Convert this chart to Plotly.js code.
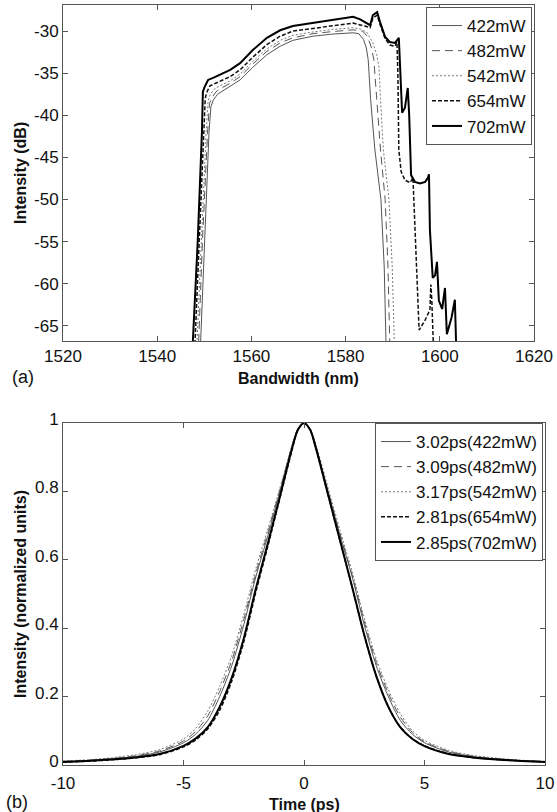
<!DOCTYPE html>
<html>
<head>
<meta charset="utf-8">
<script src="https://cdn.plot.ly/plotly-3.0.1.min.js"></script>
<style>html,body{margin:0;padding:0;background:#fff;}#chart{width:557px;height:812px;}</style>
</head>
<body>
<div id="chart"></div>
<script>
// ---------- Panel (a): spectra ----------
const wl422 = [1549.0,1550.0,1551.0,1551.4,1551.9,1552.8,1554.0,1555.5,1557.6,1560.3,1563.3,1566.1,1568.8,1573.1,1577.3,1581.6,1582.8,1583.8,1584.4,1584.8,1585.3,1586.2,1587.5,1588.2,1588.7];
const db422 = [-70,-55,-42,-39,-38.2,-37.5,-37.1,-36.6,-35.8,-34.3,-32.8,-31.8,-31.1,-30.6,-30.35,-30.2,-30.3,-31.0,-32.0,-33.4,-38,-44,-50,-58,-70];

const wl482 = [1548.6,1549.6,1550.7,1551.1,1551.6,1552.5,1553.5,1555.5,1557.6,1560.3,1563.3,1566.1,1568.8,1573.1,1577.3,1581.6,1583.6,1584.6,1585.4,1586.0,1586.6,1587.4,1588.4,1589.0,1589.5];
const db482 = [-70,-55,-42,-38.6,-37.9,-37.2,-36.8,-36.2,-35.4,-33.9,-32.4,-31.4,-30.8,-30.3,-30.05,-29.85,-30.0,-30.6,-31.8,-33.4,-38,-44,-50,-58,-70];

const wl542 = [1548.2,1549.3,1550.4,1550.8,1551.2,1552.1,1553.3,1555.5,1557.6,1560.3,1563.3,1566.1,1568.8,1573.1,1577.3,1581.6,1583.1,1584.6,1585.8,1586.6,1587.1,1587.4,1588.0,1589.2,1589.9,1590.5];
const db542 = [-70,-55,-42,-38.3,-37.6,-36.9,-36.5,-35.9,-35.1,-33.6,-32.1,-31.1,-30.5,-30.1,-29.8,-29.6,-29.75,-30.2,-31.4,-32.8,-34.3,-38,-44,-50,-58,-70];

const wl654 = [1547.8,1549.0,1549.9,1550.2,1550.5,1551.2,1552.9,1555.5,1557.6,1560.3,1563.3,1566.1,1568.8,1573.1,1577.3,1581.6,1584.1,1585.2,1585.8,1586.7,1587.3,1588.4,1589.4,1590.5,1590.9,1591.1,1591.3,1591.8,1592.6,1593.7,1594.3,1594.5,1595.2,1595.6,1596.9,1597.9,1598.1,1598.3,1598.8];
const db654 = [-70,-55,-42,-38,-37.3,-36.5,-36.05,-35.4,-34.6,-33.1,-31.6,-30.6,-30.0,-29.7,-29.35,-29.05,-29.4,-29.6,-28.45,-28.1,-29.2,-30.9,-31.65,-31.8,-31.3,-35,-44.1,-46.7,-47.7,-48.0,-47.4,-50,-60,-65.5,-64.3,-63.1,-60.1,-61.9,-70];

const wl702 = [1547.3,1548.6,1549.5,1549.7,1550.1,1550.8,1552.1,1553.3,1555.5,1557.6,1560.3,1563.3,1566.1,1568.8,1573.1,1577.3,1581.6,1583.1,1584.6,1585.2,1585.8,1586.7,1587.3,1588.4,1589.4,1590.5,1591.3,1591.5,1592.0,1592.6,1593.2,1593.5,1593.9,1594.7,1595.8,1596.9,1597.5,1597.7,1597.9,1598.5,1599.0,1599.4,1599.8,1600.5,1601.1,1601.5,1602.5,1603.2,1603.6];
const db702 = [-70,-55,-42,-37.2,-36.6,-35.8,-35.5,-35.2,-34.6,-33.8,-32.25,-30.8,-29.9,-29.4,-29.05,-28.7,-28.3,-28.6,-29.05,-29.3,-28.1,-27.75,-28.9,-30.7,-31.3,-31.4,-30.8,-33.5,-39.7,-39.1,-36.75,-40,-47.1,-47.9,-48.1,-47.9,-47.4,-47,-53.6,-59.3,-59,-57.4,-62,-63,-60.5,-66,-64,-61.9,-70];

const specNames = ['422mW','482mW','542mW','654mW','702mW'];
const xTicksA = [1520,1540,1560,1580,1600,1620];
const xTickTextA = ['1520','1540','1560','1580','1600','1620'];
const yTicksA = [-65,-60,-55,-50,-45,-40,-35,-30];
const yTickTextA = ['-65','-60','-55','-50','-45','-40','-35','-30'];

// ---------- Panel (b): autocorrelation traces ----------
const tps = [-10,-9,-8,-7,-6,-5,-4.5,-4,-3.5,-3,-2.5,-2,-1.5,-1,-0.5,-0.25,0,0.25,0.5,1,1.5,2,2.5,3,3.5,4,4.5,5,6,7,8,9,10];
const ac422 = [0.010,0.013,0.018,0.025,0.038,0.065,0.090,0.130,0.200,0.290,0.410,0.550,0.670,0.800,0.930,0.982,1.0,0.982,0.930,0.800,0.670,0.550,0.410,0.290,0.200,0.130,0.090,0.065,0.038,0.025,0.018,0.013,0.010];
const ac482 = [0.011,0.014,0.019,0.027,0.041,0.070,0.098,0.143,0.215,0.305,0.425,0.560,0.680,0.805,0.932,0.983,1.0,0.982,0.930,0.800,0.675,0.555,0.420,0.300,0.210,0.140,0.095,0.068,0.040,0.026,0.018,0.013,0.010];
const ac542 = [0.012,0.015,0.021,0.030,0.045,0.076,0.107,0.157,0.230,0.320,0.440,0.574,0.690,0.810,0.935,0.984,1.0,0.984,0.935,0.810,0.685,0.565,0.430,0.310,0.220,0.150,0.100,0.072,0.043,0.028,0.020,0.014,0.011];
const ac654 = [0.008,0.011,0.015,0.021,0.030,0.053,0.073,0.105,0.160,0.245,0.360,0.505,0.640,0.780,0.920,0.980,1.0,0.981,0.925,0.790,0.655,0.520,0.380,0.260,0.170,0.110,0.077,0.056,0.033,0.022,0.016,0.012,0.009];
const ac702 = [0.009,0.012,0.016,0.022,0.032,0.056,0.077,0.110,0.170,0.255,0.370,0.515,0.648,0.785,0.925,0.981,1.0,0.981,0.925,0.790,0.655,0.520,0.380,0.260,0.170,0.110,0.076,0.055,0.032,0.022,0.016,0.012,0.009];
const pulseNames = ['3.02ps(422mW)','3.09ps(482mW)','3.17ps(542mW)','2.81ps(654mW)','2.85ps(702mW)'];
const xTicksB = [-10,-5,0,5,10];
const xTickTextB = ['-10','-5','0','5','10'];
const yTicksB = [0,0.2,0.4,0.6,0.8,1];
const yTickTextB = ['0','0.2','0.4','0.6','0.8','1'];

// ---------- styles ----------
const styles = [
  {color:'#555', width:1, dash:'solid'},
  {color:'#555', width:1, dash:'8px,5px'},
  {color:'#777', width:1, dash:'2px,2px'},
  {color:'#111', width:1.5, dash:'4px,2px'},
  {color:'#000', width:2, dash:'solid'}
];
const FONT = 'Liberation Sans, Arial, Helvetica, sans-serif';

const specX = [wl422, wl482, wl542, wl654, wl702];
const specY = [db422, db482, db542, db654, db702];
const acY = [ac422, ac482, ac542, ac654, ac702];

const traces = [];
for (let i = 0; i < 5; i++) {
  traces.push({x: specX[i], y: specY[i], type:'scatter', mode:'lines', name: specNames[i],
    xaxis:'x', yaxis:'y', legend:'legend', line: Object.assign({}, styles[i])});
}
for (let i = 0; i < 5; i++) {
  traces.push({x: tps, y: acY[i], type:'scatter', mode:'lines', name: pulseNames[i],
    xaxis:'x2', yaxis:'y2', legend:'legend2', line: Object.assign({shape:'spline', smoothing:0.8}, styles[i])});
}

const W = 557, H = 812;
function axisBase(){
  return {ticks:'inside', ticklen:5, tickwidth:1, tickcolor:'#555', showline:true, linecolor:'#555', linewidth:1,
    mirror:'allticks', showgrid:false, zeroline:false, tickmode:'array',
    tickfont:{family:FONT, size:17, color:'#111'}};
}
const xa = Object.assign(axisBase(), {domain:[63/W, 534/W], anchor:'y', range:[1520,1620], tickvals:xTicksA, ticktext:xTickTextA});
const ya = Object.assign(axisBase(), {domain:[1-341/H, 1-5/H], anchor:'x', range:[-66.8,-26.9], tickvals:yTicksA, ticktext:yTickTextA});
const xb = Object.assign(axisBase(), {domain:[63/W, 545/W], anchor:'y2', range:[-10,10], tickvals:xTicksB, ticktext:xTickTextB, ticklabelstandoff:3});
const yb = Object.assign(axisBase(), {domain:[1-765/H, 1-423/H], anchor:'x2', range:[0,1], tickvals:yTicksB, ticktext:yTickTextB, ticklabelshift:-4});

function ann(text, px, py, opts){
  return Object.assign({text:text, xref:'paper', yref:'paper', x:px/W, y:1-py/H, showarrow:false,
    xanchor:'center', yanchor:'middle', font:{family:FONT, size:16, color:'#111'}}, opts||{});
}

const layout = {
  width:W, height:H, margin:{l:0,r:0,t:0,b:0},
  paper_bgcolor:'#fff', plot_bgcolor:'#fff',
  xaxis:xa, yaxis:ya, xaxis2:xb, yaxis2:yb,
  showlegend:true,
  legend:{x:532/W, xanchor:'right', y:1-7/H, yanchor:'top', bgcolor:'#fff', bordercolor:'#555', borderwidth:1,
    font:{family:FONT, size:17, color:'#111'}, tracegroupgap:0, itemwidth:30},
  legend2:{x:543/W, xanchor:'right', y:1-423/H, yanchor:'top', bgcolor:'#fff', bordercolor:'#555', borderwidth:1,
    font:{family:FONT, size:17, color:'#111'}, tracegroupgap:0, itemwidth:30},
  annotations:[
    ann('(a)', 10, 377, {xanchor:'left', font:{family:FONT, size:18, color:'#111'}}),
    ann('<b>Bandwidth (nm)</b>', 298, 379),
    ann('<b>Intensity (dB)</b>', 20, 173, {textangle:-90}),
    ann('(b)', 4, 802, {xanchor:'left', font:{family:FONT, size:18, color:'#111'}}),
    ann('<b>Time (ps)</b>', 304, 804),
    ann('<b>Intensity (normalized units)</b>', 20, 594, {textangle:-90})
  ]
};

Plotly.newPlot('chart', traces, layout, {staticPlot:true, displayModeBar:false});
</script>
</body>
</html>
